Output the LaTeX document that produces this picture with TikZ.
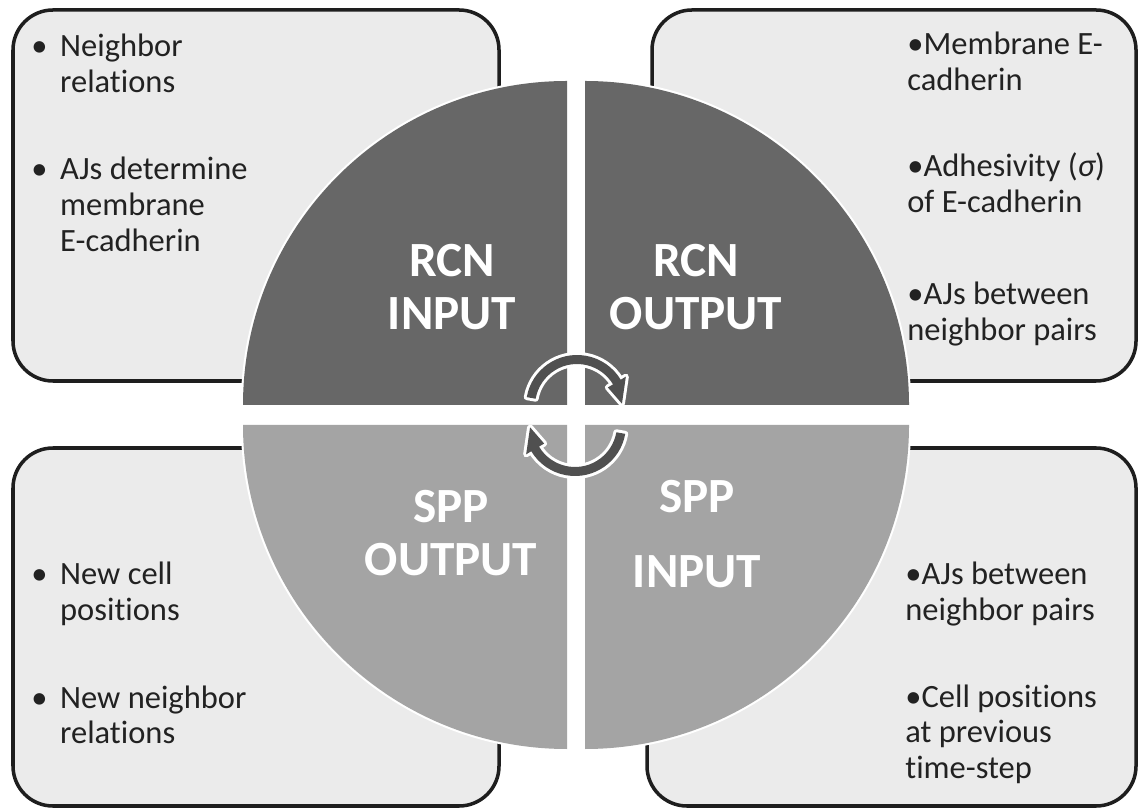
\documentclass[tikz,border=0pt]{standalone}
\usepackage{fontspec}
\setmainfont{Carlito}[Ligatures=NoCommon]
\definecolor{boxfill}{HTML}{EBEBEB}
\definecolor{boxline}{HTML}{1E1E1E}
\definecolor{darkq}{HTML}{676767}
\definecolor{lightq}{HTML}{A4A4A4}
\definecolor{arrowc}{HTML}{505050}
\definecolor{txt}{HTML}{222222}
\newcommand{\hangbul}{\makebox[16.4pt][l]{•}}
\begin{document}
\begin{tikzpicture}[x=0.02cm,y=0.02cm,
  infobox/.style={fill=boxfill,draw=boxline,line width=2pt,rounded corners=0.8cm},
  quad/.style={preaction={draw=white,line width=2.4pt}},
  item/.style={anchor=base west,inner sep=0pt,text=txt,font=\fontsize{18.5}{20.4}\selectfont},
  title/.style={anchor=base,inner sep=0pt,text=white,font=\fontsize{28}{30}\selectfont\bfseries},
  cyc/.style={fill=arrowc,preaction={draw=white,line width=3.4pt,line join=round}}]
\useasboundingbox (0,0) rectangle (1141,811);
\fill[white] (0,0) rectangle (1141,811);
% info boxes
\path[infobox] (13,430) rectangle (499,801);
\path[infobox] (652,430) rectangle (1136,801);
\path[infobox] (13,5) rectangle (499,363);
\path[infobox] (647,5) rectangle (1136,363);
% quadrants
\fill[quad,darkq] (567,406) -- (243,406) arc[start angle=180,end angle=90,radius=324] -- cycle;
\fill[quad,darkq] (585,406) -- (585,730) arc[start angle=90,end angle=0,radius=324] -- cycle;
\fill[quad,lightq] (567,386) -- (243,386) arc[start angle=180,end angle=270,radius=324] -- cycle;
\fill[quad,lightq] (585,386) -- (909,386) arc[start angle=0,end angle=-90,radius=324] -- cycle;
% cycle arrows
\begin{scope}[shift={(577,405)}]
\path[cyc] (170:51) arc[start angle=170,end angle=31,radius=51] -- (31:57) -- (3:45) -- (31:36) -- (31:42) arc[start angle=31,end angle=170,radius=42] -- cycle;
\end{scope}
\begin{scope}[shift={(575,386)}]
\path[cyc] (-10:51) arc[start angle=-10,end angle=-149,radius=51] -- (-149:57) -- (-177:45) -- (-149:36) -- (-149:42) arc[start angle=-149,end angle=-10,radius=42] -- cycle;
\end{scope}
% quadrant titles
\node[title] (rcnin) at (452,534) {\begin{tabular}[t]{@{}c@{}}RCN\\INPUT\end{tabular}};
\node[title] (rcnout) at (696,534) {\begin{tabular}[t]{@{}c@{}}RCN\\OUTPUT\end{tabular}};
\node[title] (sppout) at (451,288) {\begin{tabular}[t]{@{}c@{}}SPP\\OUTPUT\end{tabular}};
\node[title,font=\fontsize{28}{42.5}\selectfont\bfseries] (sppin) at (697,298) {\begin{tabular}[t]{@{}c@{}}SPP\\INPUT\end{tabular}};
% box texts
\node[item] (tl1) at (31,754) {\begin{tabular}[t]{@{}l@{}l@{}}\hangbul&Neighbor\\&relations\end{tabular}};
\node[item] (tl2) at (31,631) {\begin{tabular}[t]{@{}l@{}l@{}}\hangbul&AJs determine\\&membrane\\&E-cadherin\end{tabular}};
\node[item] (tr1) at (907,756) {\begin{tabular}[t]{@{}l@{}}•Membrane E-\\cadherin\end{tabular}};
\node[item] (tr2) at (907,634) {\begin{tabular}[t]{@{}l@{}}•Adhesivity ({\itshape σ})\\of E-cadherin\end{tabular}};
\node[item] (tr3) at (907,506) {\begin{tabular}[t]{@{}l@{}}•AJs between\\neighbor pairs\end{tabular}};
\node[item] (bl1) at (31,226) {\begin{tabular}[t]{@{}l@{}l@{}}\hangbul&New cell\\&positions\end{tabular}};
\node[item] (bl2) at (31,103) {\begin{tabular}[t]{@{}l@{}l@{}}\hangbul&New neighbor\\&relations\end{tabular}};
\node[item] (br1) at (905,226) {\begin{tabular}[t]{@{}l@{}}•AJs between\\neighbor pairs\end{tabular}};
\node[item] (br2) at (905,104) {\begin{tabular}[t]{@{}l@{}}•Cell positions\\at previous\\time-step\end{tabular}};
\end{tikzpicture}
\end{document}
